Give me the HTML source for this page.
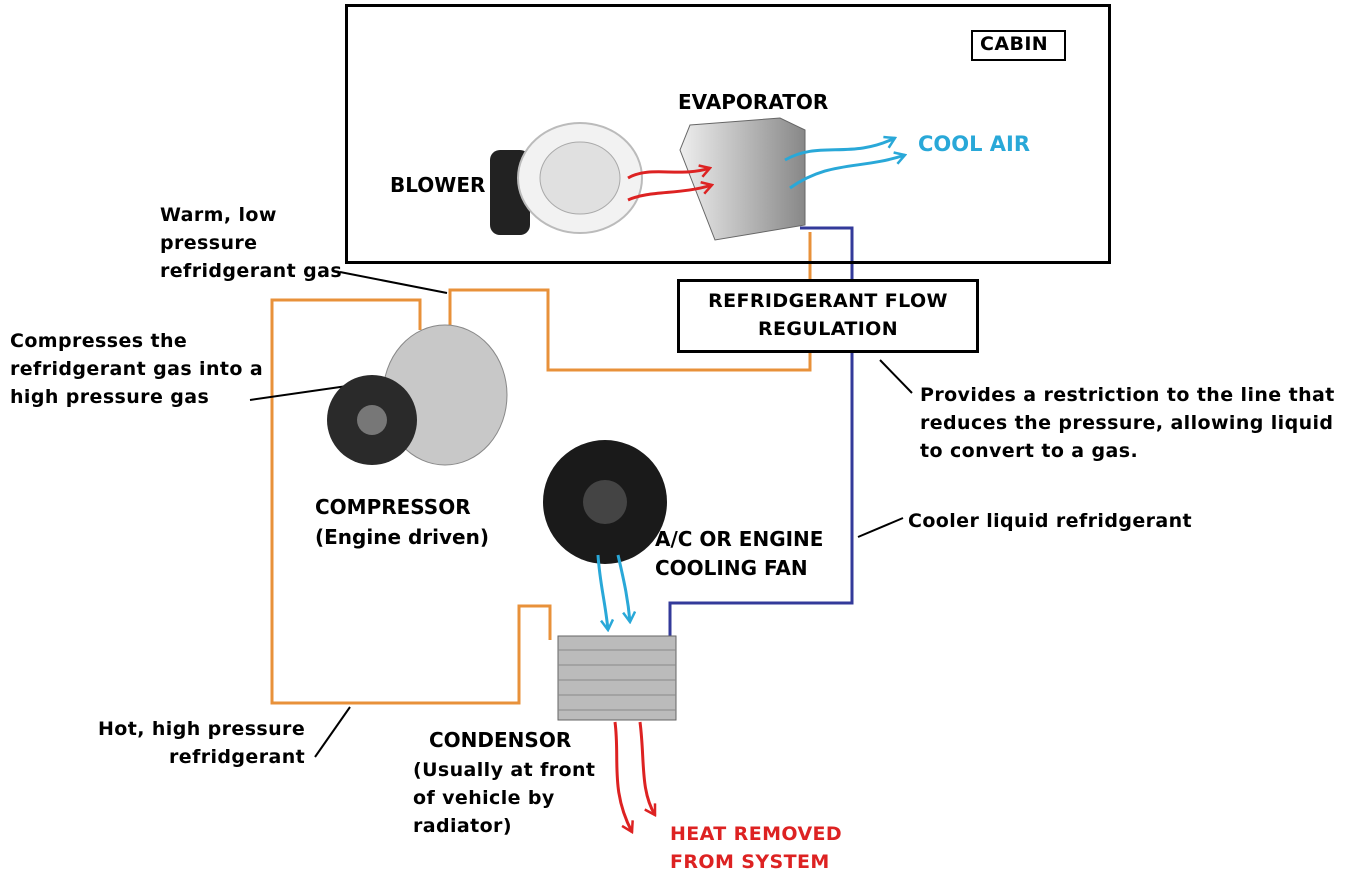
<!DOCTYPE html>
<html><head><meta charset="utf-8"><style>
body{margin:0;width:1358px;height:888px;background:#fff;overflow:hidden;position:relative;font-family:"DejaVu Sans","Liberation Sans",sans-serif;}
.t{position:absolute;font-weight:bold;font-size:19px;letter-spacing:0.4px;line-height:28px;color:#000;white-space:nowrap}
.h{position:absolute;font-weight:bold;font-size:20px;line-height:30px;color:#000;white-space:nowrap}
.b{position:absolute;border:3px solid #000;box-sizing:border-box}
</style></head><body>
<svg width="1358" height="888" style="position:absolute;left:0;top:0">
<defs>
<linearGradient id="g1" x1="0" x2="1"><stop offset="0" stop-color="#eee"/><stop offset="1" stop-color="#888"/></linearGradient>
<marker id="ar" markerUnits="userSpaceOnUse" markerWidth="14" markerHeight="14" refX="12" refY="7" orient="auto"><path d="M2,1 L12,7 L2,13" fill="none" stroke="#d22" stroke-width="2.5"/></marker>
<marker id="ab" markerUnits="userSpaceOnUse" markerWidth="14" markerHeight="14" refX="12" refY="7" orient="auto"><path d="M2,1 L12,7 L2,13" fill="none" stroke="#29a8d8" stroke-width="2.5"/></marker>
</defs>
<polyline points="420,330 420,300 272,300 272,703 519,703 519,606 550,606 550,640" fill="none" stroke="#e8913a" stroke-width="3"/>
<polyline points="450,330 450,290 548,290 548,370 810,370 810,232" fill="none" stroke="#e8913a" stroke-width="3"/>
<polyline points="800,228 852,228 852,603 670,603 670,640" fill="none" stroke="#333a9a" stroke-width="3"/>
<line x1="340" y1="272" x2="447" y2="293" stroke="#000" stroke-width="2"/>
<line x1="250" y1="400" x2="368" y2="383" stroke="#000" stroke-width="2"/>
<line x1="880" y1="360" x2="912" y2="393" stroke="#000" stroke-width="2"/>
<line x1="858" y1="537" x2="903" y2="518" stroke="#000" stroke-width="2"/>
<line x1="315" y1="757" x2="350" y2="707" stroke="#000" stroke-width="2"/>
<rect x="490" y="150" width="40" height="85" rx="10" fill="#222"/>
<ellipse cx="580" cy="178" rx="62" ry="55" fill="#f2f2f2" stroke="#bbb" stroke-width="2"/>
<ellipse cx="580" cy="178" rx="40" ry="36" fill="#e0e0e0" stroke="#aaa"/>
<polygon points="690,125 780,118 805,130 805,225 715,240 680,150" fill="url(#g1)" stroke="#666"/>
<path d="M628,178 C650,165 680,178 710,168" fill="none" stroke="#d22" stroke-width="3" marker-end="url(#ar)"/>
<path d="M628,200 C650,190 680,195 712,185" fill="none" stroke="#d22" stroke-width="3" marker-end="url(#ar)"/>
<path d="M785,160 C820,140 850,160 895,138" fill="none" stroke="#29a8d8" stroke-width="3" marker-end="url(#ab)"/>
<path d="M790,188 C830,160 860,170 905,155" fill="none" stroke="#29a8d8" stroke-width="3" marker-end="url(#ab)"/>
<ellipse cx="445" cy="395" rx="62" ry="70" fill="#c8c8c8" stroke="#888"/>
<circle cx="372" cy="420" r="45" fill="#2a2a2a"/>
<circle cx="372" cy="420" r="15" fill="#777"/>
<circle cx="605" cy="502" r="62" fill="#1a1a1a"/>
<circle cx="605" cy="502" r="22" fill="#444"/>
<path d="M598,555 C600,585 605,600 608,630" fill="none" stroke="#29a8d8" stroke-width="3" marker-end="url(#ab)"/>
<path d="M618,555 C625,585 628,600 630,622" fill="none" stroke="#29a8d8" stroke-width="3" marker-end="url(#ab)"/>
<rect x="558" y="636" width="118" height="84" fill="#bbb" stroke="#666"/>
<g stroke="#888" stroke-width="1"><line x1="558" y1="650" x2="676" y2="650"/><line x1="558" y1="665" x2="676" y2="665"/><line x1="558" y1="680" x2="676" y2="680"/><line x1="558" y1="695" x2="676" y2="695"/><line x1="558" y1="710" x2="676" y2="710"/></g>
<path d="M615,722 C620,760 610,790 632,832" fill="none" stroke="#d22" stroke-width="3" marker-end="url(#ar)"/>
<path d="M640,722 C645,760 640,790 655,815" fill="none" stroke="#d22" stroke-width="3" marker-end="url(#ar)"/>
</svg>
<div class="b" style="left:345px;top:4px;width:766px;height:260px"></div>
<div class="b" style="left:971px;top:30px;width:95px;height:31px;border-width:2px"></div>
<div class="t" style="left:980px;top:30px">CABIN</div>
<div class="b" style="left:677px;top:279px;width:302px;height:74px;background:#fff"></div>
<div class="t" style="left:677px;top:287px;width:302px;text-align:center;white-space:normal">REFRIDGERANT FLOW<br>REGULATION</div>
<div class="h" style="left:678px;top:87px">EVAPORATOR</div>
<div class="h" style="left:918px;top:129px;color:#29a8d8;font-size:21px">COOL AIR</div>
<div class="h" style="left:390px;top:170px">BLOWER</div>
<div class="t" style="left:160px;top:201px">Warm, low<br>pressure<br>refridgerant gas</div>
<div class="t" style="left:10px;top:327px">Compresses the<br>refridgerant gas into a<br>high pressure gas</div>
<div class="t" style="left:920px;top:381px">Provides a restriction to the line that<br>reduces the pressure, allowing liquid<br>to convert to a gas.</div>
<div class="h" style="left:315px;top:492px">COMPRESSOR<br>(Engine driven)</div>
<div class="t" style="left:908px;top:507px">Cooler liquid refridgerant</div>
<div class="h" style="left:655px;top:525px;line-height:29px">A/C OR ENGINE<br>COOLING FAN</div>
<div class="t" style="left:98px;top:715px;text-align:right">Hot, high pressure<br>refridgerant</div>
<div class="h" style="left:429px;top:725px">CONDENSOR</div>
<div class="t" style="left:413px;top:756px">(Usually at front<br>of vehicle by<br>radiator)</div>
<div class="t" style="left:670px;top:820px;color:#d22">HEAT REMOVED<br>FROM SYSTEM</div>
</body></html>
